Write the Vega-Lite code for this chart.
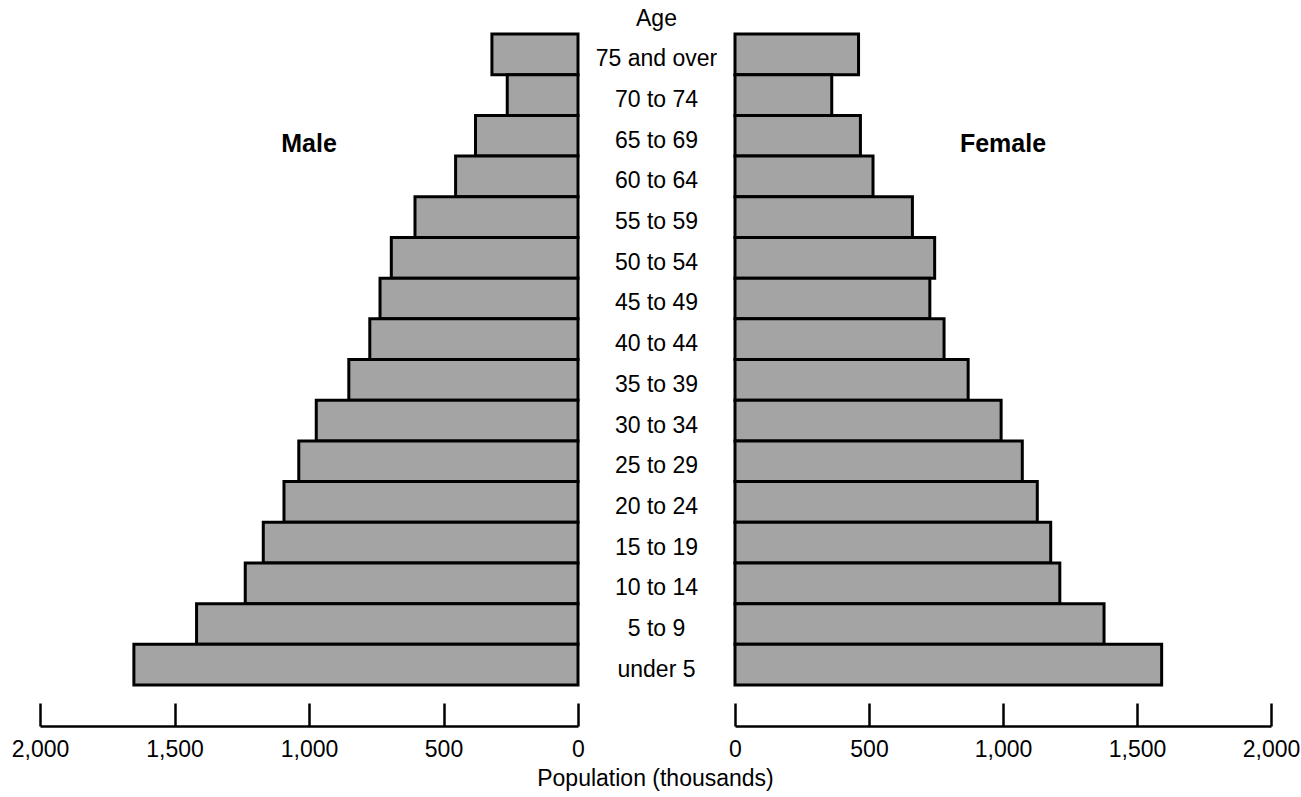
{
  "$schema": "https://vega.github.io/schema/vega-lite/v6.json",
  "background": "white",
  "padding": {"left": 11, "top": 8, "right": 0, "bottom": 0},
  "autosize": {"type": "pad"},
  "bounds": "flush",
  "spacing": 0,
  "config": {
    "view": {"stroke": null},
    "font": "Liberation Sans",
    "axis": {"labelColor": "black", "labelFont": "Liberation Sans", "labelFontSize": 23, "grid": false}
  },
  "title": {"text": "Population (thousands)", "orient": "bottom", "anchor": "middle", "fontSize": 23, "fontWeight": "normal", "font": "Liberation Sans", "color": "black", "offset": 7},
  "datasets": {
    "pop": [
      {"age": "75 and over", "sex": "Male", "pop": 320},
      {"age": "70 to 74", "sex": "Male", "pop": 263},
      {"age": "65 to 69", "sex": "Male", "pop": 381},
      {"age": "60 to 64", "sex": "Male", "pop": 455},
      {"age": "55 to 59", "sex": "Male", "pop": 606},
      {"age": "50 to 54", "sex": "Male", "pop": 694},
      {"age": "45 to 49", "sex": "Male", "pop": 736},
      {"age": "40 to 44", "sex": "Male", "pop": 774},
      {"age": "35 to 39", "sex": "Male", "pop": 852},
      {"age": "30 to 34", "sex": "Male", "pop": 973},
      {"age": "25 to 29", "sex": "Male", "pop": 1038},
      {"age": "20 to 24", "sex": "Male", "pop": 1093},
      {"age": "15 to 19", "sex": "Male", "pop": 1170},
      {"age": "10 to 14", "sex": "Male", "pop": 1237},
      {"age": "5 to 9", "sex": "Male", "pop": 1418},
      {"age": "under 5", "sex": "Male", "pop": 1651},
      {"age": "75 and over", "sex": "Female", "pop": 461},
      {"age": "70 to 74", "sex": "Female", "pop": 361},
      {"age": "65 to 69", "sex": "Female", "pop": 468},
      {"age": "60 to 64", "sex": "Female", "pop": 515},
      {"age": "55 to 59", "sex": "Female", "pop": 662},
      {"age": "50 to 54", "sex": "Female", "pop": 745},
      {"age": "45 to 49", "sex": "Female", "pop": 727},
      {"age": "40 to 44", "sex": "Female", "pop": 780},
      {"age": "35 to 39", "sex": "Female", "pop": 870},
      {"age": "30 to 34", "sex": "Female", "pop": 993},
      {"age": "25 to 29", "sex": "Female", "pop": 1072},
      {"age": "20 to 24", "sex": "Female", "pop": 1128},
      {"age": "15 to 19", "sex": "Female", "pop": 1178},
      {"age": "10 to 14", "sex": "Female", "pop": 1212},
      {"age": "5 to 9", "sex": "Female", "pop": 1377},
      {"age": "under 5", "sex": "Female", "pop": 1592}
    ]
  },
  "resolve": {"scale": {"x": "independent", "y": "shared"}},
  "hconcat": [
    {
      "width": 538,
      "height": 651,
      "layer": [
        {
          "data": {"name": "pop"},
          "transform": [{"filter": "datum.sex === 'Male'"}],
          "mark": {"type": "bar", "fill": "#a4a4a4", "stroke": "black", "strokeWidth": 3},
          "encoding": {
            "y": {"field": "age", "type": "nominal", "axis": null,
              "scale": {"domain": ["75 and over", "70 to 74", "65 to 69", "60 to 64", "55 to 59", "50 to 54", "45 to 49", "40 to 44", "35 to 39", "30 to 34", "25 to 29", "20 to 24", "15 to 19", "10 to 14", "5 to 9", "under 5"], "paddingInner": 0, "paddingOuter": 0}},
            "x": {"field": "pop", "type": "quantitative",
              "scale": {"domain": [0, 2000], "reverse": true, "nice": false},
              "axis": {"values": [0, 500, 1000, 1500, 2000], "format": ",d", "title": null, "offset": 41, "tickSize": -23, "labelPadding": 35, "domainColor": "black", "domainWidth": 2.5, "tickColor": "black", "tickWidth": 2.5, "labelFlush": false}}
          }
        },
        {
          "data": {"values": [{"label": "Male"}]},
          "mark": {"type": "text", "fontSize": 25, "fontWeight": "bold", "color": "black", "dy": 8},
          "encoding": {
            "x": {"datum": 1000, "type": "quantitative"},
            "y": {"datum": "65 to 69", "type": "nominal"},
            "text": {"field": "label"}
          }
        }
      ]
    },
    {
      "width": 157,
      "height": 651,
      "title": {"text": "Age", "fontSize": 23, "fontWeight": "normal", "font": "Liberation Sans", "color": "black", "offset": 3, "anchor": "middle"},
      "data": {"name": "pop"},
      "transform": [{"filter": "datum.sex === 'Male'"}],
      "mark": {"type": "text", "fontSize": 23, "color": "black", "dy": 5},
      "encoding": {
        "y": {"field": "age", "type": "nominal", "axis": null},
        "text": {"field": "age"}
      }
    },
    {
      "width": 536,
      "height": 651,
      "layer": [
        {
          "data": {"name": "pop"},
          "transform": [{"filter": "datum.sex === 'Female'"}],
          "mark": {"type": "bar", "fill": "#a4a4a4", "stroke": "black", "strokeWidth": 3},
          "encoding": {
            "y": {"field": "age", "type": "nominal", "axis": null},
            "x": {"field": "pop", "type": "quantitative",
              "scale": {"domain": [0, 2000], "nice": false},
              "axis": {"values": [0, 500, 1000, 1500, 2000], "format": ",d", "title": null, "offset": 41, "tickSize": -23, "labelPadding": 35, "domainColor": "black", "domainWidth": 2.5, "tickColor": "black", "tickWidth": 2.5, "labelFlush": false}}
          }
        },
        {
          "data": {"values": [{"label": "Female"}]},
          "mark": {"type": "text", "fontSize": 25, "fontWeight": "bold", "color": "black", "dy": 8},
          "encoding": {
            "x": {"datum": 1000, "type": "quantitative"},
            "y": {"datum": "65 to 69", "type": "nominal"},
            "text": {"field": "label"}
          }
        }
      ]
    }
  ]
}
